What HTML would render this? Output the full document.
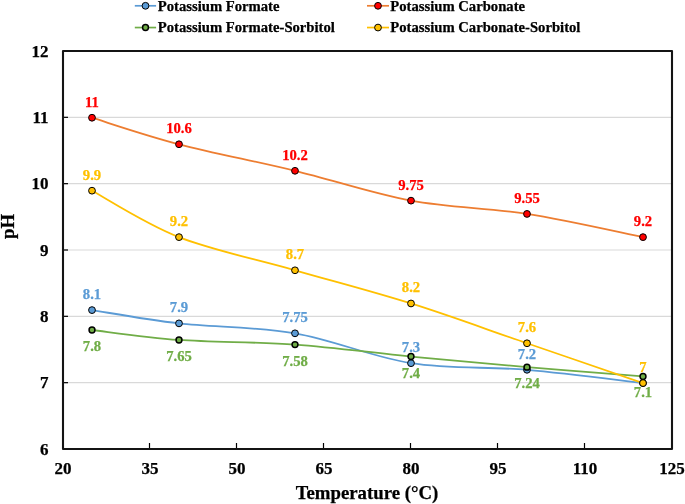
<!DOCTYPE html><html><head><meta charset="utf-8"><style>html,body{margin:0;padding:0;background:#fff;overflow:hidden}svg{display:block;will-change:transform}text{font-family:"Liberation Serif",serif;font-weight:bold;stroke:currentColor;stroke-width:0.25px}</style></head><body>
<svg width="685" height="504" viewBox="0 0 685 504">
<rect width="685" height="504" fill="#fff"/>
<line x1="63.0" y1="382.67" x2="672.0" y2="382.67" stroke="#D9D9D9" stroke-width="1.2"/>
<line x1="63.0" y1="316.33" x2="672.0" y2="316.33" stroke="#D9D9D9" stroke-width="1.2"/>
<line x1="63.0" y1="250.00" x2="672.0" y2="250.00" stroke="#D9D9D9" stroke-width="1.2"/>
<line x1="63.0" y1="183.67" x2="672.0" y2="183.67" stroke="#D9D9D9" stroke-width="1.2"/>
<line x1="63.0" y1="117.33" x2="672.0" y2="117.33" stroke="#D9D9D9" stroke-width="1.2"/>
<line x1="63.0" y1="382.67" x2="68.0" y2="382.67" stroke="#000" stroke-width="1.2"/>
<line x1="63.0" y1="316.33" x2="68.0" y2="316.33" stroke="#000" stroke-width="1.2"/>
<line x1="63.0" y1="250.00" x2="68.0" y2="250.00" stroke="#000" stroke-width="1.2"/>
<line x1="63.0" y1="183.67" x2="68.0" y2="183.67" stroke="#000" stroke-width="1.2"/>
<line x1="63.0" y1="117.33" x2="68.0" y2="117.33" stroke="#000" stroke-width="1.2"/>
<line x1="149.50" y1="449.0" x2="149.50" y2="443.0" stroke="#000" stroke-width="1.2"/>
<line x1="236.50" y1="449.0" x2="236.50" y2="443.0" stroke="#000" stroke-width="1.2"/>
<line x1="323.50" y1="449.0" x2="323.50" y2="443.0" stroke="#000" stroke-width="1.2"/>
<line x1="410.50" y1="449.0" x2="410.50" y2="443.0" stroke="#000" stroke-width="1.2"/>
<line x1="497.50" y1="449.0" x2="497.50" y2="443.0" stroke="#000" stroke-width="1.2"/>
<line x1="584.50" y1="449.0" x2="584.50" y2="443.0" stroke="#000" stroke-width="1.2"/>
<rect x="63.0" y="51.0" width="609.0" height="398.0" fill="none" stroke="#141414" stroke-width="2.1" stroke-linejoin="round"/>
<text x="48.5" y="454.50" font-size="17" text-anchor="end">6</text>
<text x="48.5" y="388.17" font-size="17" text-anchor="end">7</text>
<text x="48.5" y="321.83" font-size="17" text-anchor="end">8</text>
<text x="48.5" y="255.50" font-size="17" text-anchor="end">9</text>
<text x="48.5" y="189.17" font-size="17" text-anchor="end">10</text>
<text x="48.5" y="122.83" font-size="17" text-anchor="end">11</text>
<text x="48.5" y="56.50" font-size="17" text-anchor="end">12</text>
<text x="63.00" y="473.8" font-size="17" text-anchor="middle">20</text>
<text x="150.00" y="473.8" font-size="17" text-anchor="middle">35</text>
<text x="237.00" y="473.8" font-size="17" text-anchor="middle">50</text>
<text x="324.00" y="473.8" font-size="17" text-anchor="middle">65</text>
<text x="411.00" y="473.8" font-size="17" text-anchor="middle">80</text>
<text x="498.00" y="473.8" font-size="17" text-anchor="middle">95</text>
<text x="585.00" y="473.8" font-size="17" text-anchor="middle">110</text>
<text x="672.00" y="473.8" font-size="17" text-anchor="middle">125</text>
<text x="367" y="498.9" font-size="18.8" text-anchor="middle">Temperature (°C)</text>
<text transform="translate(13.5,226.5) rotate(-90)" font-size="18.8" text-anchor="middle">pH</text>
<path d="M92.00,310.10 C106.50,312.31 145.17,319.50 179.00,323.37 C212.83,327.24 256.33,326.68 295.00,333.32 C333.67,339.95 372.33,357.09 411.00,363.17 C449.67,369.25 488.33,366.48 527.00,369.80 C565.67,373.12 623.67,380.86 643.00,383.07" fill="none" stroke="#5B9BD5" stroke-width="1.8" stroke-linecap="round"/>
<path d="M92.00,117.73 C106.50,122.16 145.17,135.42 179.00,144.27 C212.83,153.11 256.33,161.40 295.00,170.80 C333.67,180.20 372.33,193.46 411.00,200.65 C449.67,207.84 488.33,207.84 527.00,213.92 C565.67,220.00 623.67,233.26 643.00,237.13" fill="none" stroke="#ED7D31" stroke-width="1.8" stroke-linecap="round"/>
<path d="M92.00,330.00 C106.50,331.66 145.17,337.52 179.00,339.95 C212.83,342.38 256.33,341.83 295.00,344.59 C333.67,347.36 372.33,352.77 411.00,356.53 C449.67,360.29 488.33,363.83 527.00,367.15 C565.67,370.46 623.67,374.89 643.00,376.43" fill="none" stroke="#70AD47" stroke-width="1.8" stroke-linecap="round"/>
<path d="M92.00,190.70 C106.50,198.44 145.17,223.87 179.00,237.13 C212.83,250.40 256.33,259.24 295.00,270.30 C333.67,281.36 372.33,291.31 411.00,303.47 C449.67,315.63 488.33,330.00 527.00,343.27 C565.67,356.53 623.67,376.43 643.00,383.07" fill="none" stroke="#FFC000" stroke-width="1.8" stroke-linecap="round"/>
<circle cx="92.00" cy="310.10" r="3.40" fill="#5B9BD5" stroke="#000" stroke-width="1.00"/>
<circle cx="179.00" cy="323.37" r="3.40" fill="#5B9BD5" stroke="#000" stroke-width="1.00"/>
<circle cx="295.00" cy="333.32" r="3.40" fill="#5B9BD5" stroke="#000" stroke-width="1.00"/>
<circle cx="411.00" cy="363.17" r="3.40" fill="#5B9BD5" stroke="#000" stroke-width="1.00"/>
<circle cx="527.00" cy="369.80" r="3.40" fill="#5B9BD5" stroke="#000" stroke-width="1.00"/>
<circle cx="643.00" cy="383.07" r="3.40" fill="#5B9BD5" stroke="#000" stroke-width="1.00"/>
<circle cx="92.00" cy="117.73" r="3.40" fill="#FF0000" stroke="#000" stroke-width="1.00"/>
<circle cx="179.00" cy="144.27" r="3.40" fill="#FF0000" stroke="#000" stroke-width="1.00"/>
<circle cx="295.00" cy="170.80" r="3.40" fill="#FF0000" stroke="#000" stroke-width="1.00"/>
<circle cx="411.00" cy="200.65" r="3.40" fill="#FF0000" stroke="#000" stroke-width="1.00"/>
<circle cx="527.00" cy="213.92" r="3.40" fill="#FF0000" stroke="#000" stroke-width="1.00"/>
<circle cx="643.00" cy="237.13" r="3.40" fill="#FF0000" stroke="#000" stroke-width="1.00"/>
<circle cx="92.00" cy="330.00" r="2.95" fill="#70AD47" stroke="#000" stroke-width="1.50"/>
<circle cx="179.00" cy="339.95" r="2.95" fill="#70AD47" stroke="#000" stroke-width="1.50"/>
<circle cx="295.00" cy="344.59" r="2.95" fill="#70AD47" stroke="#000" stroke-width="1.50"/>
<circle cx="411.00" cy="356.53" r="2.95" fill="#70AD47" stroke="#000" stroke-width="1.50"/>
<circle cx="527.00" cy="367.15" r="2.95" fill="#70AD47" stroke="#000" stroke-width="1.50"/>
<circle cx="643.00" cy="376.43" r="2.95" fill="#70AD47" stroke="#000" stroke-width="1.50"/>
<circle cx="92.00" cy="190.70" r="3.40" fill="#FFC000" stroke="#000" stroke-width="1.00"/>
<circle cx="179.00" cy="237.13" r="3.40" fill="#FFC000" stroke="#000" stroke-width="1.00"/>
<circle cx="295.00" cy="270.30" r="3.40" fill="#FFC000" stroke="#000" stroke-width="1.00"/>
<circle cx="411.00" cy="303.47" r="3.40" fill="#FFC000" stroke="#000" stroke-width="1.00"/>
<circle cx="527.00" cy="343.27" r="3.40" fill="#FFC000" stroke="#000" stroke-width="1.00"/>
<circle cx="643.00" cy="383.07" r="3.40" fill="#FFC000" stroke="#000" stroke-width="1.00"/>
<text x="92.00" y="299.10" font-size="14.67" text-anchor="middle" fill="#5B9BD5" style="color:#5B9BD5">8.1</text>
<text x="179.00" y="312.37" font-size="14.67" text-anchor="middle" fill="#5B9BD5" style="color:#5B9BD5">7.9</text>
<text x="295.00" y="322.32" font-size="14.67" text-anchor="middle" fill="#5B9BD5" style="color:#5B9BD5">7.75</text>
<text x="411.00" y="352.17" font-size="14.67" text-anchor="middle" fill="#5B9BD5" style="color:#5B9BD5">7.3</text>
<text x="527.00" y="358.80" font-size="14.67" text-anchor="middle" fill="#5B9BD5" style="color:#5B9BD5">7.2</text>
<text x="92.00" y="106.73" font-size="14.67" text-anchor="middle" fill="#FF0000" style="color:#FF0000">11</text>
<text x="179.00" y="133.27" font-size="14.67" text-anchor="middle" fill="#FF0000" style="color:#FF0000">10.6</text>
<text x="295.00" y="159.80" font-size="14.67" text-anchor="middle" fill="#FF0000" style="color:#FF0000">10.2</text>
<text x="411.00" y="189.65" font-size="14.67" text-anchor="middle" fill="#FF0000" style="color:#FF0000">9.75</text>
<text x="527.00" y="202.92" font-size="14.67" text-anchor="middle" fill="#FF0000" style="color:#FF0000">9.55</text>
<text x="643.00" y="226.13" font-size="14.67" text-anchor="middle" fill="#FF0000" style="color:#FF0000">9.2</text>
<text x="92.00" y="351.00" font-size="14.67" text-anchor="middle" fill="#70AD47" style="color:#70AD47">7.8</text>
<text x="179.00" y="360.95" font-size="14.67" text-anchor="middle" fill="#70AD47" style="color:#70AD47">7.65</text>
<text x="295.00" y="365.59" font-size="14.67" text-anchor="middle" fill="#70AD47" style="color:#70AD47">7.58</text>
<text x="411.00" y="377.53" font-size="14.67" text-anchor="middle" fill="#70AD47" style="color:#70AD47">7.4</text>
<text x="527.00" y="388.15" font-size="14.67" text-anchor="middle" fill="#70AD47" style="color:#70AD47">7.24</text>
<text x="643.00" y="397.43" font-size="14.67" text-anchor="middle" fill="#70AD47" style="color:#70AD47">7.1</text>
<text x="92.00" y="179.70" font-size="14.67" text-anchor="middle" fill="#FFC000" style="color:#FFC000">9.9</text>
<text x="179.00" y="226.13" font-size="14.67" text-anchor="middle" fill="#FFC000" style="color:#FFC000">9.2</text>
<text x="295.00" y="259.30" font-size="14.67" text-anchor="middle" fill="#FFC000" style="color:#FFC000">8.7</text>
<text x="411.00" y="292.47" font-size="14.67" text-anchor="middle" fill="#FFC000" style="color:#FFC000">8.2</text>
<text x="527.00" y="332.27" font-size="14.67" text-anchor="middle" fill="#FFC000" style="color:#FFC000">7.6</text>
<text x="643.00" y="372.07" font-size="14.67" text-anchor="middle" fill="#FFC000" style="color:#FFC000">7</text>
<line x1="134.8" y1="5.80" x2="156.1" y2="5.80" stroke="#5B9BD5" stroke-width="1.7"/>
<circle cx="145.50" cy="5.80" r="3.40" fill="#5B9BD5" stroke="#000" stroke-width="1.00"/>
<text x="157.80" y="10.70" font-size="14.67" fill="#000">Potassium Formate</text>
<line x1="367.0" y1="5.80" x2="389.0" y2="5.80" stroke="#ED7D31" stroke-width="1.7"/>
<circle cx="378.00" cy="5.80" r="3.40" fill="#FF0000" stroke="#000" stroke-width="1.00"/>
<text x="390.30" y="10.70" font-size="14.67" fill="#000">Potassium Carbonate</text>
<line x1="134.8" y1="27.55" x2="156.1" y2="27.55" stroke="#70AD47" stroke-width="1.7"/>
<circle cx="145.50" cy="27.55" r="2.95" fill="#70AD47" stroke="#000" stroke-width="1.50"/>
<text x="157.80" y="32.45" font-size="14.67" fill="#000">Potassium Formate-Sorbitol</text>
<line x1="367.0" y1="27.55" x2="389.0" y2="27.55" stroke="#FFC000" stroke-width="1.7"/>
<circle cx="378.00" cy="27.55" r="3.40" fill="#FFC000" stroke="#000" stroke-width="1.00"/>
<text x="390.30" y="32.45" font-size="14.67" fill="#000">Potassium Carbonate-Sorbitol</text>
</svg></body></html>
